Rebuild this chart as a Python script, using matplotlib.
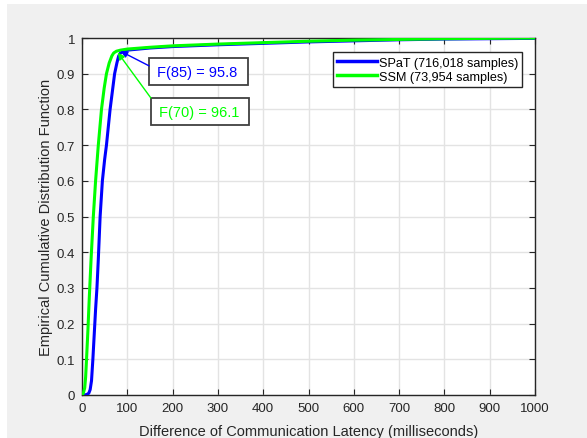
import matplotlib
matplotlib.use("Agg")
import matplotlib.pyplot as plt
from matplotlib.patches import Rectangle

plt.rcParams['font.family'] = ['Liberation Sans', 'DejaVu Sans']

# empirical CDF
spat_ms = [0, 10, 15, 18, 21, 24, 27, 30, 33, 36, 40, 45, 50, 54, 58, 62, 67, 72, 77, 81, 85, 90,
           100, 150, 200, 300, 400, 500, 600, 700, 800, 900, 1000]
spat_cdf = [0, 0.001, 0.005, 0.015, 0.04, 0.1, 0.17, 0.24, 0.3, 0.38, 0.5, 0.6, 0.66, 0.7, 0.75, 0.8,
            0.85, 0.9, 0.93, 0.95, 0.958, 0.962, 0.966, 0.972, 0.976, 0.981, 0.985, 0.989, 0.992,
            0.995, 0.997, 0.998, 0.999]
ssm_ms = [0, 3, 6, 8, 10, 13, 16, 20, 25, 30, 36, 43, 49, 54, 60, 66, 70, 76, 85, 100, 150, 200,
          300, 400, 500, 600, 700, 800, 900, 1000]
ssm_cdf = [0, 0.005, 0.02, 0.05, 0.1, 0.18, 0.27, 0.38, 0.5, 0.6, 0.7, 0.8, 0.86, 0.9, 0.93, 0.95,
           0.958, 0.963, 0.966, 0.969, 0.974, 0.978, 0.983, 0.987, 0.991, 0.994, 0.996, 0.998,
           0.999, 1.0]
labels = ["SPaT (716,018 samples)", "SSM (73,954 samples)"]
notes = ["F(85) = 95.8", "F(70) = 96.1"]
xticks = list(range(0, 1001, 100))
yticks = [round(0.1 * i, 1) for i in range(11)]

BLUE = "#0000ff"
GREEN = "#00ff00"
DARK = "#262626"

fig = plt.figure(figsize=(5.87, 4.39), dpi=100, facecolor="#f0f0f0")
# white strips of the screenshot edge
fig.patches.append(Rectangle((0, 1 - 5 / 439), 1, 5 / 439, transform=fig.transFigure,
                             facecolor="white", edgecolor="none", zorder=0))
fig.patches.append(Rectangle((0, 0), 7 / 587, 1, transform=fig.transFigure,
                             facecolor="white", edgecolor="none", zorder=0))

ax = fig.add_axes([82 / 587, 43 / 439, 453 / 587, 357 / 439])
ax.set_facecolor("white")

ax.plot(spat_ms, spat_cdf, color=BLUE, lw=2.2, label=labels[0], zorder=3)
ax.plot(ssm_ms, ssm_cdf, color=GREEN, lw=2.2, label=labels[1], zorder=3)

ax.set_xlim(0, 1000)
ax.set_ylim(0, 1)
ax.set_xticks(xticks)
ax.set_yticks(yticks)
ax.set_yticklabels([("%g" % v) for v in yticks])
ax.grid(True, color="#e3e3e3", lw=1)
ax.set_axisbelow(True)
ax.tick_params(direction="in", length=4, top=True, right=True, labelsize=9.5,
               colors=DARK, labelcolor=DARK, pad=5)
for s in ax.spines.values():
    s.set_color(DARK)
    s.set_linewidth(1)

ax.set_xlabel("Difference of Communication Latency (milliseconds)", fontsize=10.5, color=DARK)
ax.set_ylabel("Empirical Cumulative Distribution Function", fontsize=10.5, color=DARK)
ax.xaxis.set_label_coords(0.5, -0.082)
ax.yaxis.set_label_coords(-0.064, 0.5)

leg = ax.legend(loc="upper right", bbox_to_anchor=(0.972, 0.96), fontsize=9.1, fancybox=False,
                edgecolor=DARK, framealpha=1, handlelength=3.1, handletextpad=0.15,
                borderpad=0.35, labelspacing=0.15, borderaxespad=0)
leg.get_frame().set_linewidth(1)
for ln in leg.get_lines():
    ln.set_linewidth(2.5)

# text-arrow annotations
boxes = [(148, 0.868, 218, 0.076), (152, 0.756, 216, 0.076)]
tips = [(85, 0.963), (79, 0.959)]
tails = [(148, 0.922), (152, 0.832)]
cols = [BLUE, GREEN]
for note, (bx, by, bw, bh), tip, tail, c in zip(notes, boxes, tips, tails, cols):
    ax.add_patch(Rectangle((bx, by), bw, bh, facecolor="white", edgecolor="#404040",
                           lw=1.3, zorder=4))
    ax.text(bx + 18, by + bh / 2, note, color=c, fontsize=10.5, ha="left", va="center", zorder=5)
    ax.annotate("", xy=tip, xytext=tail, zorder=5,
                arrowprops=dict(arrowstyle="-|>", color=c, lw=1, mutation_scale=10,
                                shrinkA=0, shrinkB=0))

fig.savefig("out.png", dpi=100, facecolor=fig.get_facecolor())
